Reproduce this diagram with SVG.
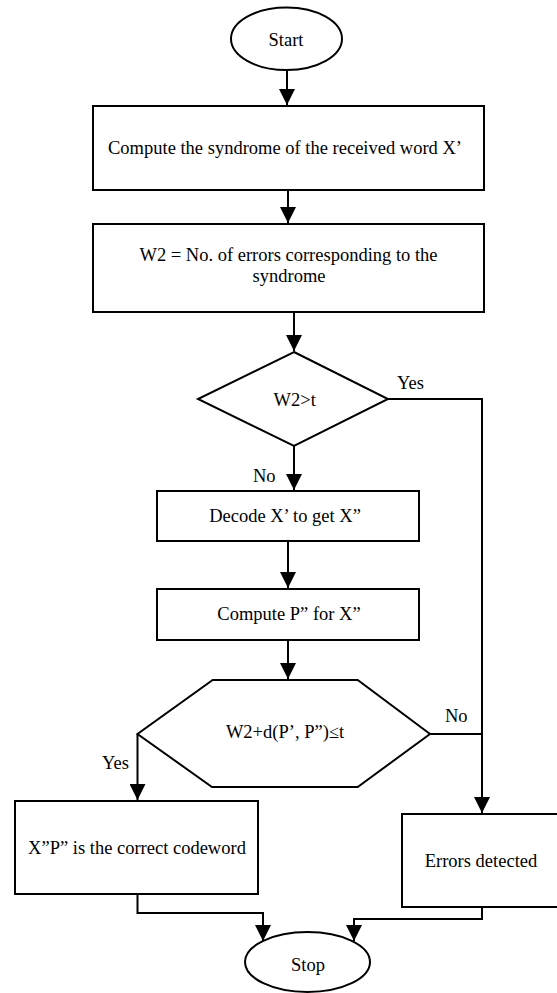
<svg xmlns="http://www.w3.org/2000/svg" width="557" height="993" viewBox="0 0 557 993">
<style>
.s{fill:#fff;stroke:#000;stroke-width:2}
.c{fill:none;stroke:#000;stroke-width:2}
.m{text-anchor:middle}
</style>
<defs>
<marker id="ah" markerUnits="userSpaceOnUse" markerWidth="16" markerHeight="16" refX="16" refY="8" orient="auto">
<path d="M0,0 L16,8 L0,16 z" fill="#000"/>
</marker>
</defs>
<rect width="557" height="993" fill="#fff"/>
<g font-family="'Liberation Serif', 'DejaVu Serif', 'Times New Roman', Times, serif" font-size="18.5" fill="#000">
<g id="connectors">
<path class="c" d="M287,70 V105" marker-end="url(#ah)"/>
<path class="c" d="M288,190 V223" marker-end="url(#ah)"/>
<path class="c" d="M294,312 V351" marker-end="url(#ah)"/>
<path class="c" d="M294,446 V490" marker-end="url(#ah)"/>
<path class="c" d="M288,541 V588" marker-end="url(#ah)"/>
<path class="c" d="M288,640 V679" marker-end="url(#ah)"/>
<path class="c" d="M388,399 H482 V813" marker-end="url(#ah)"/>
<path class="c" d="M430,734 H482"/>
<path class="c" d="M137.5,734 V800" marker-end="url(#ah)"/>
<path class="c" d="M137.5,894 V913 H263 V941" marker-end="url(#ah)"/>
<path class="c" d="M482,907 V919 H354 V941" marker-end="url(#ah)"/>
<text x="397" y="389">Yes</text>
<text x="253" y="482">No</text>
<text x="445" y="722">No</text>
<text x="102" y="769">Yes</text>
</g>
<g id="start">
<ellipse class="s" cx="286.5" cy="38.8" rx="55.5" ry="31.3"/>
<text class="m" x="286" y="46">Start</text>
</g>
<g id="syndrome">
<rect class="s" x="93" y="106" width="391" height="84"/>
<text class="m" x="285" y="154">Compute the syndrome of the received word X’</text>
</g>
<g id="w2">
<rect class="s" x="93" y="224" width="391" height="88"/>
<text class="m" x="288.5" y="260.5">W2 = No. of errors corresponding to the</text>
<text class="m" x="289" y="281.5">syndrome</text>
</g>
<g id="decision1">
<polygon class="s" points="294,352 388,399 294,446 198,399"/>
<text class="m" x="294.7" y="405.5">W2&gt;t</text>
</g>
<g id="decode">
<rect class="s" x="157" y="491" width="262" height="50"/>
<text class="m" x="285" y="522">Decode X’ to get X”</text>
</g>
<g id="computeP">
<rect class="s" x="157" y="589" width="262" height="51"/>
<text class="m" x="289" y="619.5">Compute P” for X”</text>
</g>
<g id="decision2">
<polygon class="s" points="212.7,680 357.7,680 430,734 357.7,787 212,787 137.5,734"/>
<text class="m" x="285" y="738">W2+d(P’, P”)≤t</text>
</g>
<g id="correct">
<rect class="s" x="15" y="801" width="243" height="93"/>
<text class="m" x="137" y="854">X”P” is the correct codeword</text>
</g>
<g id="errors">
<rect class="s" x="402" y="814" width="170" height="93"/>
<text class="m" x="481" y="866.5">Errors detected</text>
</g>
<g id="stop">
<ellipse class="s" cx="307.5" cy="962" rx="62.5" ry="30"/>
<text class="m" x="308" y="971">Stop</text>
</g>
</g>
</svg>
